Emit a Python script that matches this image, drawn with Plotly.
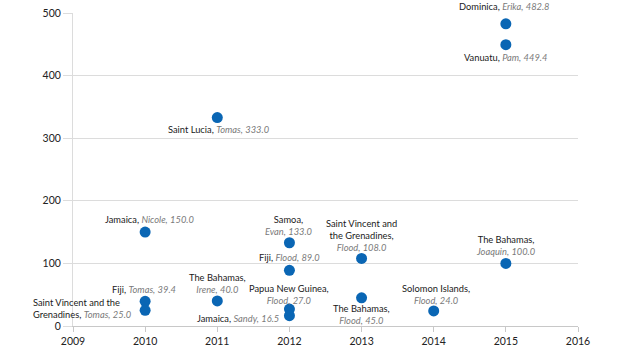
import plotly.graph_objects as go

# ---- data ----
years = [2010, 2010, 2010, 2011, 2011, 2012, 2012, 2012, 2012, 2013, 2013, 2014, 2015, 2015, 2015]
countries = ["Jamaica", "Fiji", "Saint Vincent and the Grenadines", "Saint Lucia", "The Bahamas",
             "Samoa", "Fiji", "Papua New Guinea", "Jamaica",
             "Saint Vincent and the Grenadines", "The Bahamas", "Solomon Islands",
             "Dominica", "Vanuatu", "The Bahamas"]
events = ["Nicole", "Tomas", "Tomas", "Tomas", "Irene",
          "Evan", "Flood", "Flood", "Sandy",
          "Flood", "Flood", "Flood",
          "Erika", "Pam", "Joaquin"]
values = [150.0, 39.4, 25.0, 333.0, 40.0,
          133.0, 89.0, 27.0, 16.5,
          108.0, 45.0, 24.0,
          482.8, 449.4, 100.0]

x_ticks = [2009, 2010, 2011, 2012, 2013, 2014, 2015, 2016]
y_ticks = [0, 100, 200, 300, 400, 500]

# ---- label layout: (line breaks after token idx, xanchor, align, xshift px, first-line offset px below marker) ----
label_layout = [
    ([], "center", "center", 4, -12.5),
    ([], "center", "center", -1, -12),
    ([3], "right", "left", -11, -7.7),
    ([], "center", "center", 2, 12),
    ([1], "center", "center", 0, -24),
    ([0], "center", "center", 0, -23.3),
    ([], "center", "center", 0, -12.3),
    ([2], "center", "center", 0, -20.7),
    ([], "right", "right", -8, 3),
    ([2, 4], "center", "center", 0, -35),
    ([1], "center", "center", 0, 10.6),
    ([1], "center", "center", 2.5, -22.3),
    ([], "center", "center", -2, -17.3),
    ([], "center", "center", 0, 12.4),
    ([1], "center", "center", 0, -24.3),
]
LABEL_SIZE = 9.3
LINE_H = 1.3 * LABEL_SIZE
DARK = "#1a1a1a"
GREY = "#7a7a7a"
BLUE = "#0a66b4"
FONT = "Lato"

fig = go.Figure()
fig.add_trace(go.Scatter(
    x=years, y=values, mode="markers",
    marker=dict(size=11, color=BLUE, line=dict(width=0)),
    hoverinfo="skip", showlegend=False,
))

annotations = []
for i in range(len(years)):
    cwords = countries[i].split(" ")
    tokens = [(w, False) for w in cwords]
    tokens[-1] = (tokens[-1][0] + ",", False)
    tokens.append((events[i] + ",", True))
    tokens.append((f"{values[i]:.1f}", True))
    breaks, xanchor, align, dx, dy = label_layout[i]
    lines = []
    cur = []
    for k, t in enumerate(tokens):
        cur.append(t)
        if k in breaks:
            lines.append(cur)
            cur = []
    lines.append(cur)
    html_lines = []
    for line in lines:
        parts = []
        for w, it in line:
            if it:
                parts.append(f"<i><span style='color:{GREY}'>{w}</span></i>")
            else:
                parts.append(w)
        html_lines.append(" ".join(parts))
    center = dy + (len(lines) - 1) * LINE_H / 2
    annotations.append(dict(
        x=years[i], y=values[i], xref="x", yref="y",
        text="<br>".join(html_lines), showarrow=False,
        xanchor=xanchor, yanchor="middle", align=align,
        xshift=dx, yshift=-center,
        font=dict(family=FONT, size=LABEL_SIZE, color=DARK),
    ))

fig.update_layout(
    width=620, height=350,
    margin=dict(l=73, r=42, t=13, b=24, autoexpand=False),
    paper_bgcolor="white", plot_bgcolor="white",
    annotations=annotations,
    font=dict(family=FONT, size=10.5, color="#333"),
    xaxis=dict(
        range=[2009, 2016], tickvals=x_ticks, ticktext=[str(v) for v in x_ticks],
        showgrid=False, zeroline=False, automargin=False,
        showline=True, linecolor="#c8c8c8", linewidth=1,
        ticks="outside", ticklen=5, tickcolor="#c8c8c8",
        tickfont=dict(family=FONT, size=10.5, color="#222"),
    ),
    yaxis=dict(
        range=[0, 500], tickvals=y_ticks, automargin=False,
        showgrid=True, gridcolor="#dcdcdc", gridwidth=1, zeroline=False,
        showline=True, linecolor="#dcdcdc", linewidth=1,
        ticks="outside", ticklen=9, tickcolor="#dcdcdc",
        tickfont=dict(family=FONT, size=10.5, color="#222"),
    ),
)

fig.write_html("out.html")
